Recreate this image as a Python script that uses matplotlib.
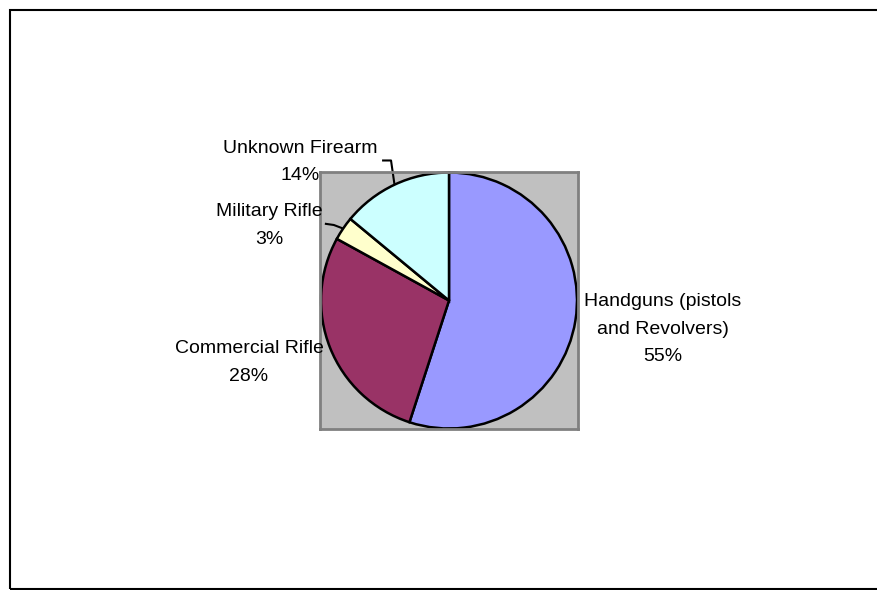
import numpy as np
import matplotlib
matplotlib.use("Agg")
import matplotlib.pyplot as plt
from matplotlib.patches import Rectangle

# data
categories = ["Handguns (pistols\nand Revolvers)", "Commercial Rifle", "Military Rifle", "Unknown Firearm"]
shares = [55, 28, 3, 14]
colors = ["#9999FF", "#993366", "#FFFFCC", "#CCFFFF"]

# label placement (data units, pie radius = 1)
label_pos = [(1.672, -0.225), (-1.5625, -0.485), (-1.406, 0.585), (-1.164, 1.08)]
# leader lines: (start of horizontal tick near text, elbow) or None
leaders = [None, None, ((-0.97, 0.60), (-0.90, 0.59)), ((-0.523, 1.094), (-0.453, 1.094))]

plt.rcParams['font.family'] = ['Liberation Sans', 'DejaVu Sans']

W, H = 877, 590
fig = plt.figure(figsize=(W / 100, H / 100), dpi=100)

# outer chart border (right side runs off the image)
fig.patches.append(Rectangle((9.5 / W, 1.0 / H), 1.2, (579.5) / H, transform=fig.transFigure,
                             fill=False, edgecolor="black", linewidth=1.5))

# plot area = grey box around the pie
ax = fig.add_axes([320 / W, (H - 429) / H, 258 / W, 257 / H])

wedges, _ = ax.pie(shares, colors=colors, startangle=90, counterclock=False, radius=1.0,
                   frame=True, wedgeprops=dict(edgecolor="black", linewidth=1.8))
ax.set_facecolor("#C0C0C0")
for s in ax.spines.values():
    s.set_visible(True)
    s.set_edgecolor("#808080")
    s.set_linewidth(2)
ax.set_xticks([])
ax.set_yticks([])
ax.set_xlim(-1.008, 1.008)
ax.set_ylim(-1.004, 1.004)
ax.set_aspect("auto")

for w, cat, val, pos, ld in zip(wedges, categories, shares, label_pos, leaders):
    ax.text(pos[0], pos[1], f"{cat}\n{val}%", ha="center", va="center", fontsize=14,
            linespacing=1.8, clip_on=False)
    if ld is not None:
        mid = np.deg2rad((w.theta1 + w.theta2) / 2)
        ex, ey = np.cos(mid), np.sin(mid)
        ax.plot([ld[0][0], ld[1][0], ex], [ld[0][1], ld[1][1], ey], color="black",
                linewidth=1.5, clip_on=False, solid_capstyle="butt")

fig.savefig("out.png", dpi=100)
